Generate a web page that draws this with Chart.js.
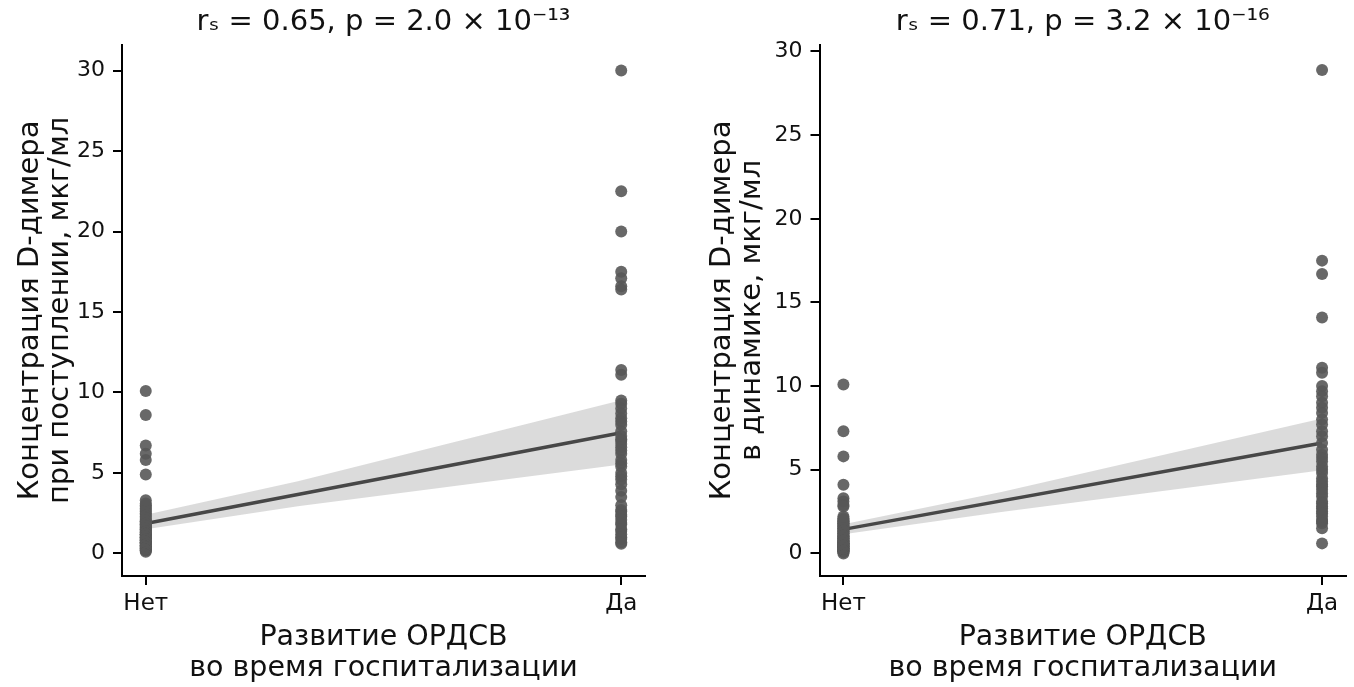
<!DOCTYPE html>
<html>
<head>
<meta charset="utf-8">
<script src="https://cdn.jsdelivr.net/npm/chart.js@4.4.0/dist/chart.umd.min.js"></script>
<style>
  html, body { margin: 0; padding: 0; background: #fff; overflow: hidden; }
  .box { position: absolute; top: 0; width: 677px; height: 687px; }
</style>
</head>
<body>
<div class="box" style="left:0px"><canvas id="c1" width="677" height="687"></canvas></div>
<div class="box" style="left:677px"><canvas id="c2" width="677" height="687"></canvas></div>
<script>
// ---- categories / ticks ----
const categories = ['Нет', 'Да'];
const categoryX = [0, 1];
const yTicks = [0, 5, 10, 15, 20, 25, 30];

// ---- Left panel: D-dimer at admission ----
const admissionNo = [10.1, 8.6, 6.7, 6.2, 5.8, 4.9,
  0.1, 0.2, 0.2, 0.3, 0.3, 0.3, 0.4, 0.4, 0.4, 0.5, 0.5, 0.5, 0.6, 0.6, 0.6,
  0.7, 0.7, 0.7, 0.8, 0.8, 0.8, 0.9, 0.9, 0.9,
  1.0, 1.0, 1.0, 1.1, 1.1, 1.2, 1.2, 1.2, 1.3, 1.3, 1.4, 1.4, 1.5, 1.5, 1.6, 1.6,
  1.7, 1.7, 1.8, 1.8, 1.9, 1.9, 2.0, 2.0,
  2.1, 2.2, 2.3, 2.4, 2.5, 2.6, 2.7, 2.8, 2.9, 3.0, 3.1, 3.3];
const admissionYes = [30.0, 22.5, 20.0, 17.5, 17.1, 16.6, 16.4, 11.4, 11.1,
  9.5, 9.3, 9.0, 8.7, 8.4, 8.2, 8.0, 7.6, 7.3, 7.1, 7.0, 6.8, 6.6, 6.4, 6.2, 5.8, 5.6, 5.4, 5.0, 4.8, 4.6, 4.3,
  3.9, 3.5, 3.0, 2.7, 2.6, 2.4, 2.3, 2.1, 1.9, 1.8, 1.5, 1.4, 1.2, 1.0, 0.9, 0.7, 0.6];
const admissionFit = [1.86, 7.5];
const admissionBandX = [0, 0.32, 1];
const admissionBandLow = [1.5, 2.94, 5.53];
const admissionBandHigh = [2.4, 4.49, 9.52];
const admissionTitle = 'rₛ = 0.65, p = 2.0 × 10⁻¹³';
const admissionYLabel = ['Концентрация D-димера', 'при поступлении, мкг/мл'];

// ---- Right panel: D-dimer in dynamics ----
const dynamicsNo = [10.1, 7.3, 5.8, 4.1, 3.3, 3.1, 2.9, 2.8,
  0.0, 0.1, 0.1, 0.1, 0.2, 0.2, 0.2, 0.2, 0.3, 0.3, 0.3, 0.3, 0.4, 0.4, 0.4, 0.4,
  0.5, 0.5, 0.5, 0.5, 0.6, 0.6, 0.6, 0.6, 0.7, 0.7, 0.7, 0.8, 0.8, 0.8, 0.9, 0.9,
  1.0, 1.0, 1.0, 1.1, 1.1, 1.2, 1.2, 1.3, 1.3, 1.4, 1.4, 1.5, 1.5, 1.6, 1.6,
  1.7, 1.7, 1.8, 1.8, 1.9, 1.9, 2.0, 2.0, 2.1, 2.2];
const dynamicsYes = [28.9, 17.5, 16.7, 14.1, 11.1, 10.8,
  10.0, 9.7, 9.4, 9.0, 8.7, 8.4, 8.0, 7.7, 7.3, 7.0, 6.6, 6.2, 5.9, 5.7, 5.5, 5.2, 5.0,
  4.8, 4.5, 4.3, 4.1, 4.0, 3.8, 3.6, 3.4, 3.1, 3.0, 2.8, 2.7, 2.5, 2.4, 2.2, 2.0, 1.9, 1.8, 1.5, 0.6];
const dynamicsFit = [1.44, 6.6];
const dynamicsBandX = [0, 0.33, 1];
const dynamicsBandLow = [1.15, 2.47, 4.97];
const dynamicsBandHigh = [1.75, 3.67, 8.07];
const dynamicsTitle = 'rₛ = 0.71, p = 3.2 × 10⁻¹⁶';
const dynamicsYLabel = ['Концентрация D-димера', 'в динамике, мкг/мл'];

const xLabel = ['Развитие ОРДСВ', 'во время госпитализации'];

const FONT = "'DejaVu Sans', sans-serif";
const TEXT = '#111';
const POINT = 'rgba(88,88,88,0.9)';
const LINE = '#474747';
const BAND = 'rgba(215,215,215,0.9)';

function pts(xs, ys) { return ys.map((v, i) => ({ x: xs[i], y: v })); }

function makeChart(id, cfg) {
  const scatter = [
    ...cfg.no.map(v => ({ x: categoryX[0], y: v })),
    ...cfg.yes.map(v => ({ x: categoryX[1], y: v }))
  ];
  return new Chart(document.getElementById(id), {
    type: 'scatter',
    data: {
      datasets: [
        { type: 'line', data: pts(cfg.bandX, cfg.bandLow), borderWidth: 0, pointRadius: 0, fill: false, order: 4, backgroundColor: BAND, borderColor: 'rgba(0,0,0,0)' },
        { type: 'line', data: pts(cfg.bandX, cfg.bandHigh), borderWidth: 0, pointRadius: 0, fill: '-1', order: 3, backgroundColor: BAND, borderColor: 'rgba(0,0,0,0)' },
        { type: 'line', data: pts(categoryX, cfg.fit), borderColor: LINE, borderWidth: 3.4, pointRadius: 0, fill: false, order: 2 },
        { data: scatter, pointRadius: 6, pointBackgroundColor: POINT, pointBorderWidth: 0, pointBorderColor: POINT, order: 1 }
      ]
    },
    options: {
      responsive: false,
      animation: false,
      devicePixelRatio: 1,
      layout: { padding: { left: 0, right: cfg.padRight, top: 0, bottom: 0 } },
      plugins: {
        legend: { display: false },
        tooltip: { enabled: false },
        title: {
          display: true, text: cfg.title, fullSize: false, color: TEXT,
          font: { family: FONT, size: 29, weight: 'normal', lineHeight: 1.2 },
          padding: { top: 5, bottom: 5 }
        }
      },
      scales: {
        x: {
          type: 'linear', min: -0.05, max: 1.05,
          afterBuildTicks: s => { s.ticks = categoryX.map(v => ({ value: v })); },
          afterFit: s => { s.height = 111; },
          ticks: { callback: v => categories[categoryX.indexOf(v)], color: TEXT, font: { family: FONT, size: 23 }, padding: 5, maxRotation: 0, autoSkip: false },
          grid: { display: true, drawOnChartArea: false, drawTicks: true, tickLength: 9, color: '#000', lineWidth: 2 },
          border: { display: true, color: '#000', width: 2 },
          title: { display: true, text: xLabel, color: TEXT, font: { family: FONT, size: 28.5, lineHeight: 1.08 }, padding: { top: 0, bottom: 3 } }
        },
        y: {
          type: 'linear', min: cfg.yMin, max: cfg.yMax,
          afterBuildTicks: s => { s.ticks = yTicks.map(v => ({ value: v })); },
          afterFit: s => { s.width = cfg.yWidth; },
          ticks: { color: TEXT, font: { family: FONT, size: 22 }, padding: 8 },
          grid: { display: true, drawOnChartArea: false, drawTicks: true, tickLength: 9, color: '#000', lineWidth: 2 },
          border: { display: true, color: '#000', width: 2 },
          title: { display: true, text: cfg.yLabel, color: TEXT, font: { family: FONT, size: 29, lineHeight: 1.04 }, padding: { top: cfg.yTitlePad, bottom: 0 } }
        }
      }
    }
  });
}

makeChart('c1', {
  no: admissionNo, yes: admissionYes, fit: admissionFit,
  bandX: admissionBandX, bandLow: admissionBandLow, bandHigh: admissionBandHigh,
  title: admissionTitle, yLabel: admissionYLabel,
  yMin: -1.4, yMax: 31.6, yWidth: 122, padRight: 32, yTitlePad: 15
});
makeChart('c2', {
  no: dynamicsNo, yes: dynamicsYes, fit: dynamicsFit,
  bandX: dynamicsBandX, bandLow: dynamicsBandLow, bandHigh: dynamicsBandHigh,
  title: dynamicsTitle, yLabel: dynamicsYLabel,
  yMin: -1.35, yMax: 30.4, yWidth: 142.5, padRight: 8, yTitlePad: 30
});
</script>
</body>
</html>
